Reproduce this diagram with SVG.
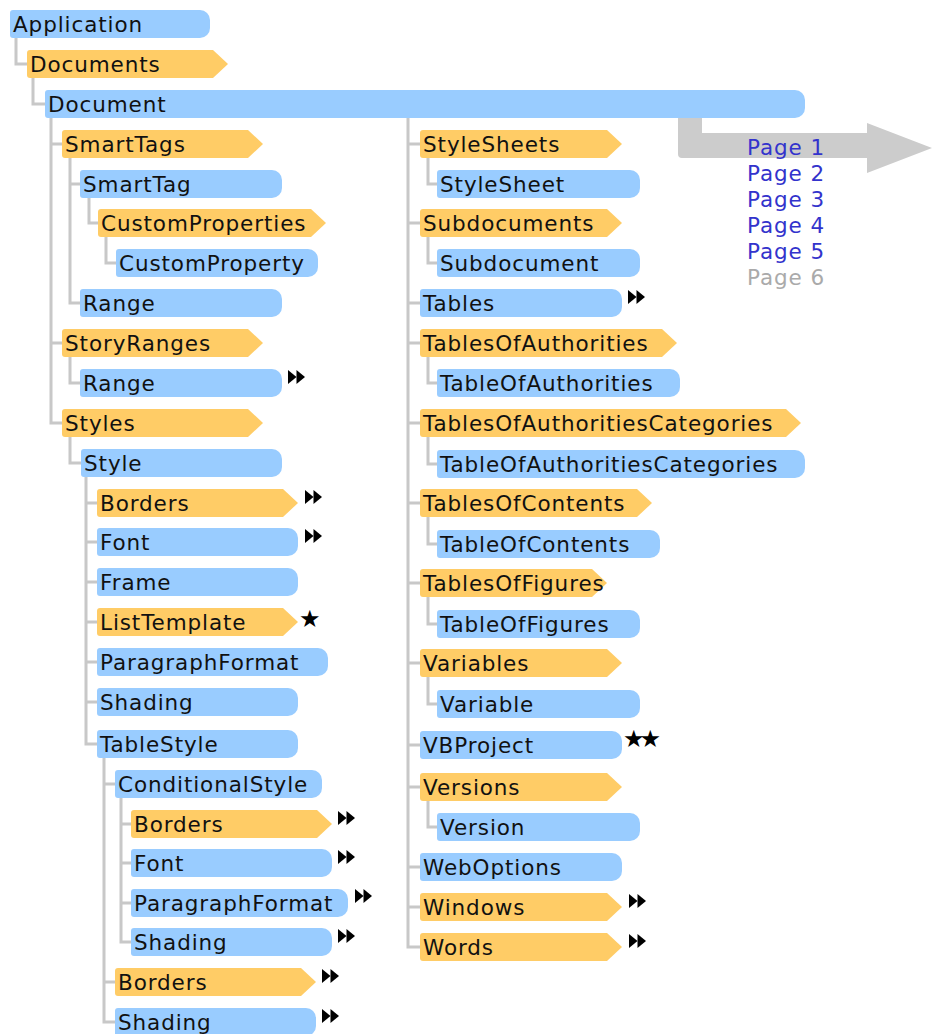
<svg xmlns="http://www.w3.org/2000/svg" xmlns:xlink="http://www.w3.org/1999/xlink" width="932" height="1034" viewBox="0 0 932 1034">
<style>
.b{fill:#99ccff}
.o{fill:#ffcc66}
.t{font-family:"DejaVu Sans",Verdana,sans-serif;font-size:21.5px;letter-spacing:0.9px;fill:#111}
.pg{font-family:"DejaVu Sans",Verdana,sans-serif;font-size:21.5px;letter-spacing:0.9px;fill:#3333cc}
.pg6{fill:#aaaaaa}
.c{fill:none;stroke:#c8c8c8;stroke-width:3}
.st{font-family:"DejaVu Sans",sans-serif;font-size:24px;fill:#000}
</style>
<defs>
<g id="ff"><polygon points="0,0 8.5,7 0,14" fill="#000"/><polygon points="8.5,0 17,7 8.5,14" fill="#000"/></g>
</defs>
<rect width="932" height="1034" fill="#fff"/>
<g id="page-arrow">
<path d="M678,116 V154 Q678,158 682,158 H867 V173 L932,148 L867,123 V133 H702 V116 Z" fill="#cccccc"/>
<text class="pg" x="747" y="155">Page 1</text>
<text class="pg" x="747" y="181">Page 2</text>
<text class="pg" x="747" y="207">Page 3</text>
<text class="pg" x="747" y="233">Page 4</text>
<text class="pg" x="747" y="259">Page 5</text>
<text class="pg pg6" x="747" y="285">Page 6</text>
</g>
<g id="connectors">
<path class="c" d="M16,38 V64 H27"/>
<path class="c" d="M33,78 V104 H45"/>
<path class="c" d="M51,118 V423 H62 M51,144 H62 M51,343 H62"/>
<path class="c" d="M70,158 V303 H80 M70,184 H80"/>
<path class="c" d="M89,198 V223 H98"/>
<path class="c" d="M106,237 V263 H116"/>
<path class="c" d="M70,357 V383 H80"/>
<path class="c" d="M70,437 V463 H81"/>
<path class="c" d="M86,477 V744 H97 M86,503 H97 M86,542 H97 M86,582 H97 M86,622 H97 M86,662 H97 M86,702 H97"/>
<path class="c" d="M104,758 V1022 H115 M104,784 H115 M104,982 H115"/>
<path class="c" d="M121,798 V942 H131 M121,824 H131 M121,863 H131 M121,903 H131"/>
<path class="c" d="M408,118 V947 H420 M408,144 H420 M408,223 H420 M408,303 H420 M408,343 H420 M408,423 H420 M408,503 H420 M408,583 H420 M408,663 H420 M408,745 H420 M408,787 H420 M408,867 H420 M408,907 H420"/>
<path class="c" d="M428,158 V184 H437 M428,237 V263 H437 M428,357 V383 H437 M428,437 V464 H437 M428,517 V544 H437 M428,597 V624 H437 M428,677 V704 H437 M428,801 V827 H437"/>
</g>
<g id="n-application"><path class="b" d="M13,10 H200 A10,10 0 0 1 210,20 V28 A10,10 0 0 1 200,38 H13 Q10,38 10,35 V13 Q10,10 13,10 Z"/><text class="t" x="13" y="32">Application</text></g>
<g id="n-documents"><path class="o" d="M30,50 H213 L228,64 L213,78 H30 Q27,78 27,75 V53 Q27,50 30,50 Z"/><text class="t" x="30" y="72">Documents</text></g>
<g id="n-document"><path class="b" d="M48,90 H795 A10,10 0 0 1 805,100 V108 A10,10 0 0 1 795,118 H48 Q45,118 45,115 V93 Q45,90 48,90 Z"/><text class="t" x="48" y="112">Document</text></g>
<g id="n-smarttags"><path class="o" d="M65,130 H248 L263,144 L248,158 H65 Q62,158 62,155 V133 Q62,130 65,130 Z"/><text class="t" x="65" y="152">SmartTags</text></g>
<g id="n-smarttag"><path class="b" d="M83,170 H272 A10,10 0 0 1 282,180 V188 A10,10 0 0 1 272,198 H83 Q80,198 80,195 V173 Q80,170 83,170 Z"/><text class="t" x="83" y="192">SmartTag</text></g>
<g id="n-customproperties"><path class="o" d="M101,209 H311 L326,223 L311,237 H101 Q98,237 98,234 V212 Q98,209 101,209 Z"/><text class="t" x="101" y="231">CustomProperties</text></g>
<g id="n-customproperty"><path class="b" d="M119,249 H308 A10,10 0 0 1 318,259 V267 A10,10 0 0 1 308,277 H119 Q116,277 116,274 V252 Q116,249 119,249 Z"/><text class="t" x="119" y="271">CustomProperty</text></g>
<g id="n-range1"><path class="b" d="M83,289 H272 A10,10 0 0 1 282,299 V307 A10,10 0 0 1 272,317 H83 Q80,317 80,314 V292 Q80,289 83,289 Z"/><text class="t" x="83" y="311">Range</text></g>
<g id="n-storyranges"><path class="o" d="M65,329 H248 L263,343 L248,357 H65 Q62,357 62,354 V332 Q62,329 65,329 Z"/><text class="t" x="65" y="351">StoryRanges</text></g>
<g id="n-range2"><path class="b" d="M83,369 H272 A10,10 0 0 1 282,379 V387 A10,10 0 0 1 272,397 H83 Q80,397 80,394 V372 Q80,369 83,369 Z"/><text class="t" x="83" y="391">Range</text><use xlink:href="#ff" href="#ff" x="288" y="370"/></g>
<g id="n-styles"><path class="o" d="M65,409 H248 L263,423 L248,437 H65 Q62,437 62,434 V412 Q62,409 65,409 Z"/><text class="t" x="65" y="431">Styles</text></g>
<g id="n-style"><path class="b" d="M84,449 H272 A10,10 0 0 1 282,459 V467 A10,10 0 0 1 272,477 H84 Q81,477 81,474 V452 Q81,449 84,449 Z"/><text class="t" x="84" y="471">Style</text></g>
<g id="n-borders1"><path class="o" d="M100,489 H283 L298,503 L283,517 H100 Q97,517 97,514 V492 Q97,489 100,489 Z"/><text class="t" x="100" y="511">Borders</text><use xlink:href="#ff" href="#ff" x="305" y="490"/></g>
<g id="n-font1"><path class="b" d="M100,528 H288 A10,10 0 0 1 298,538 V546 A10,10 0 0 1 288,556 H100 Q97,556 97,553 V531 Q97,528 100,528 Z"/><text class="t" x="100" y="550">Font</text><use xlink:href="#ff" href="#ff" x="305" y="529"/></g>
<g id="n-frame"><path class="b" d="M100,568 H288 A10,10 0 0 1 298,578 V586 A10,10 0 0 1 288,596 H100 Q97,596 97,593 V571 Q97,568 100,568 Z"/><text class="t" x="100" y="590">Frame</text></g>
<g id="n-listtemplate"><path class="o" d="M100,608 H283 L298,622 L283,636 H100 Q97,636 97,633 V611 Q97,608 100,608 Z"/><text class="t" x="100" y="630">ListTemplate</text><text class="st" x="299" y="627">★</text></g>
<g id="n-paragraphformat1"><path class="b" d="M100,648 H318 A10,10 0 0 1 328,658 V666 A10,10 0 0 1 318,676 H100 Q97,676 97,673 V651 Q97,648 100,648 Z"/><text class="t" x="100" y="670">ParagraphFormat</text></g>
<g id="n-shading1"><path class="b" d="M100,688 H288 A10,10 0 0 1 298,698 V706 A10,10 0 0 1 288,716 H100 Q97,716 97,713 V691 Q97,688 100,688 Z"/><text class="t" x="100" y="710">Shading</text></g>
<g id="n-tablestyle"><path class="b" d="M100,730 H288 A10,10 0 0 1 298,740 V748 A10,10 0 0 1 288,758 H100 Q97,758 97,755 V733 Q97,730 100,730 Z"/><text class="t" x="100" y="752">TableStyle</text></g>
<g id="n-conditionalstyle"><path class="b" d="M118,770 H312 A10,10 0 0 1 322,780 V788 A10,10 0 0 1 312,798 H118 Q115,798 115,795 V773 Q115,770 118,770 Z"/><text class="t" x="118" y="792">ConditionalStyle</text></g>
<g id="n-borders2"><path class="o" d="M134,810 H317 L332,824 L317,838 H134 Q131,838 131,835 V813 Q131,810 134,810 Z"/><text class="t" x="134" y="832">Borders</text><use xlink:href="#ff" href="#ff" x="338" y="811"/></g>
<g id="n-font2"><path class="b" d="M134,849 H322 A10,10 0 0 1 332,859 V867 A10,10 0 0 1 322,877 H134 Q131,877 131,874 V852 Q131,849 134,849 Z"/><text class="t" x="134" y="871">Font</text><use xlink:href="#ff" href="#ff" x="338" y="850"/></g>
<g id="n-paragraphformat2"><path class="b" d="M134,889 H338 A10,10 0 0 1 348,899 V907 A10,10 0 0 1 338,917 H134 Q131,917 131,914 V892 Q131,889 134,889 Z"/><text class="t" x="134" y="911">ParagraphFormat</text><use xlink:href="#ff" href="#ff" x="355" y="889"/></g>
<g id="n-shading2"><path class="b" d="M134,928 H322 A10,10 0 0 1 332,938 V946 A10,10 0 0 1 322,956 H134 Q131,956 131,953 V931 Q131,928 134,928 Z"/><text class="t" x="134" y="950">Shading</text><use xlink:href="#ff" href="#ff" x="338" y="929"/></g>
<g id="n-borders3"><path class="o" d="M118,968 H301 L316,982 L301,996 H118 Q115,996 115,993 V971 Q115,968 118,968 Z"/><text class="t" x="118" y="990">Borders</text><use xlink:href="#ff" href="#ff" x="322" y="969"/></g>
<g id="n-shading3"><path class="b" d="M118,1008 H306 A10,10 0 0 1 316,1018 V1026 A10,10 0 0 1 306,1036 H118 Q115,1036 115,1033 V1011 Q115,1008 118,1008 Z"/><text class="t" x="118" y="1030">Shading</text><use xlink:href="#ff" href="#ff" x="322" y="1009"/></g>
<g id="n-stylesheets"><path class="o" d="M423,130 H607 L622,144 L607,158 H423 Q420,158 420,155 V133 Q420,130 423,130 Z"/><text class="t" x="423" y="152">StyleSheets</text></g>
<g id="n-stylesheet"><path class="b" d="M440,170 H630 A10,10 0 0 1 640,180 V188 A10,10 0 0 1 630,198 H440 Q437,198 437,195 V173 Q437,170 440,170 Z"/><text class="t" x="440" y="192">StyleSheet</text></g>
<g id="n-subdocuments"><path class="o" d="M423,209 H607 L622,223 L607,237 H423 Q420,237 420,234 V212 Q420,209 423,209 Z"/><text class="t" x="423" y="231">Subdocuments</text></g>
<g id="n-subdocument"><path class="b" d="M440,249 H630 A10,10 0 0 1 640,259 V267 A10,10 0 0 1 630,277 H440 Q437,277 437,274 V252 Q437,249 440,249 Z"/><text class="t" x="440" y="271">Subdocument</text></g>
<g id="n-tables"><path class="b" d="M423,289 H612 A10,10 0 0 1 622,299 V307 A10,10 0 0 1 612,317 H423 Q420,317 420,314 V292 Q420,289 423,289 Z"/><text class="t" x="423" y="311">Tables</text><use xlink:href="#ff" href="#ff" x="628" y="290"/></g>
<g id="n-tablesofauthorities"><path class="o" d="M423,329 H662 L677,343 L662,357 H423 Q420,357 420,354 V332 Q420,329 423,329 Z"/><text class="t" x="423" y="351">TablesOfAuthorities</text></g>
<g id="n-tableofauthorities"><path class="b" d="M440,369 H670 A10,10 0 0 1 680,379 V387 A10,10 0 0 1 670,397 H440 Q437,397 437,394 V372 Q437,369 440,369 Z"/><text class="t" x="440" y="391">TableOfAuthorities</text></g>
<g id="n-tablesofauthoritiescategories"><path class="o" d="M423,409 H786 L801,423 L786,437 H423 Q420,437 420,434 V412 Q420,409 423,409 Z"/><text class="t" x="423" y="431">TablesOfAuthoritiesCategories</text></g>
<g id="n-tableofauthoritiescategories"><path class="b" d="M440,450 H795 A10,10 0 0 1 805,460 V468 A10,10 0 0 1 795,478 H440 Q437,478 437,475 V453 Q437,450 440,450 Z"/><text class="t" x="440" y="472">TableOfAuthoritiesCategories</text></g>
<g id="n-tablesofcontents"><path class="o" d="M423,489 H637 L652,503 L637,517 H423 Q420,517 420,514 V492 Q420,489 423,489 Z"/><text class="t" x="423" y="511">TablesOfContents</text></g>
<g id="n-tableofcontents"><path class="b" d="M440,530 H650 A10,10 0 0 1 660,540 V548 A10,10 0 0 1 650,558 H440 Q437,558 437,555 V533 Q437,530 440,530 Z"/><text class="t" x="440" y="552">TableOfContents</text></g>
<g id="n-tablesoffigures"><path class="o" d="M423,569 H592 L607,583 L592,597 H423 Q420,597 420,594 V572 Q420,569 423,569 Z"/><text class="t" x="423" y="591">TablesOfFigures</text></g>
<g id="n-tableoffigures"><path class="b" d="M440,610 H630 A10,10 0 0 1 640,620 V628 A10,10 0 0 1 630,638 H440 Q437,638 437,635 V613 Q437,610 440,610 Z"/><text class="t" x="440" y="632">TableOfFigures</text></g>
<g id="n-variables"><path class="o" d="M423,649 H607 L622,663 L607,677 H423 Q420,677 420,674 V652 Q420,649 423,649 Z"/><text class="t" x="423" y="671">Variables</text></g>
<g id="n-variable"><path class="b" d="M440,690 H630 A10,10 0 0 1 640,700 V708 A10,10 0 0 1 630,718 H440 Q437,718 437,715 V693 Q437,690 440,690 Z"/><text class="t" x="440" y="712">Variable</text></g>
<g id="n-vbproject"><path class="b" d="M423,731 H612 A10,10 0 0 1 622,741 V749 A10,10 0 0 1 612,759 H423 Q420,759 420,756 V734 Q420,731 423,731 Z"/><text class="t" x="423" y="753">VBProject</text><text class="st" x="623" y="747" letter-spacing="-5">★★</text></g>
<g id="n-versions"><path class="o" d="M423,773 H607 L622,787 L607,801 H423 Q420,801 420,798 V776 Q420,773 423,773 Z"/><text class="t" x="423" y="795">Versions</text></g>
<g id="n-version"><path class="b" d="M440,813 H630 A10,10 0 0 1 640,823 V831 A10,10 0 0 1 630,841 H440 Q437,841 437,838 V816 Q437,813 440,813 Z"/><text class="t" x="440" y="835">Version</text></g>
<g id="n-weboptions"><path class="b" d="M423,853 H612 A10,10 0 0 1 622,863 V871 A10,10 0 0 1 612,881 H423 Q420,881 420,878 V856 Q420,853 423,853 Z"/><text class="t" x="423" y="875">WebOptions</text></g>
<g id="n-windows"><path class="o" d="M423,893 H607 L622,907 L607,921 H423 Q420,921 420,918 V896 Q420,893 423,893 Z"/><text class="t" x="423" y="915">Windows</text><use xlink:href="#ff" href="#ff" x="629" y="894"/></g>
<g id="n-words"><path class="o" d="M423,933 H607 L622,947 L607,961 H423 Q420,961 420,958 V936 Q420,933 423,933 Z"/><text class="t" x="423" y="955">Words</text><use xlink:href="#ff" href="#ff" x="629" y="934"/></g>
</svg>
